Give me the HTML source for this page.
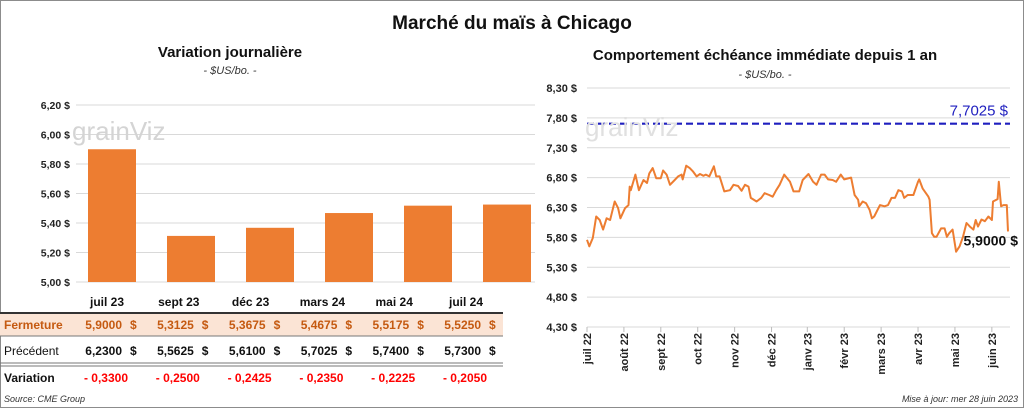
<!DOCTYPE html>
<html><head><meta charset="utf-8"><style>
body{margin:0;width:1024px;height:408px;background:#fff;font-family:"Liberation Sans",Calibri,sans-serif;overflow:hidden}
#wrap{position:relative;width:1022px;height:406px;border:1px solid #8c8c8c}
</style></head><body>
<div id="wrap">
<svg id="svg" width="1024" height="408" style="position:absolute;left:-1px;top:-1px" font-family="Liberation Sans, sans-serif">
<text x="512" y="29" text-anchor="middle" font-size="19" font-weight="bold" fill="#111">Marché du maïs à Chicago</text>
<text x="230" y="57" text-anchor="middle" font-size="15" font-weight="bold" fill="#111">Variation journalière</text>
<text x="230" y="74" text-anchor="middle" font-size="11" font-style="italic" fill="#333">- $US/bo. -</text>
<text x="765" y="60" text-anchor="middle" font-size="15" font-weight="bold" fill="#111">Comportement échéance immédiate depuis 1 an</text>
<text x="765" y="78" text-anchor="middle" font-size="11" font-style="italic" fill="#333">- $US/bo. -</text>
<g id="left"></g><g id="right"></g>
<text x="72" y="140" font-size="26" fill="#d4d4d4">grainViz</text>
<text x="585" y="136" font-size="26" fill="#e0e0e0">grainViz</text>
<g id="table"></g>
<text x="4" y="402" font-size="9" font-style="italic" fill="#333">Source: CME Group</text>
<text x="1018" y="402" text-anchor="end" font-size="9" font-style="italic" fill="#333">Mise à jour: mer 28 juin 2023</text>
</svg></div>
<script>
const barCats=["juil 23","sept 23","déc 23","mars 24","mai 24","juil 24"];
const closeVals=[5.9,5.3125,5.3675,5.4675,5.5175,5.525];
const prevVals=[6.23,5.5625,5.61,5.7025,5.74,5.73];
const leftTicks=[5.0,5.2,5.4,5.6,5.8,6.0,6.2];
const rightTicks=[4.3,4.8,5.3,5.8,6.3,6.8,7.3,7.8,8.3];
const monthLabels=["juil 22","août 22","sept 22","oct 22","nov 22","déc 22","janv 23","févr 23","mars 23","avr 23","mai 23","juin 23"];
const monthDays=[0,32,64,96,128,160,191,223,255,287,319,351];
const lineDays=[0,2,5,8,11,14,17,20,24,27,29,33,36,37,38,42,45,49,52,54,57,60,64,66,69,72,76,79,82,83,86,89,92,95,98,101,103,106,110,112,115,119,124,127,131,134,137,140,142,147,151,154,158,161,164,167,171,176,179,184,187,192,196,199,203,206,209,213,216,220,223,229,232,235,236,239,242,245,247,249,254,258,261,264,267,270,273,275,278,283,287,288,291,296,297,299,301,303,307,310,312,314,317,320,323,326,329,332,335,337,339,342,345,348,351,352,356,357,359,361,364,365];
const linePrices=[5.76,5.65,5.79,6.15,6.09,5.93,6.12,6.09,6.40,6.29,6.12,6.29,6.34,6.65,6.59,6.85,6.59,6.76,6.71,6.87,6.96,6.79,6.79,6.92,6.85,6.68,6.76,6.82,6.85,6.77,7.00,6.96,6.90,6.82,6.86,6.83,6.85,6.82,6.99,6.82,6.82,6.57,6.59,6.68,6.66,6.58,6.68,6.65,6.46,6.40,6.46,6.54,6.51,6.48,6.59,6.68,6.85,6.73,6.57,6.57,6.76,6.86,6.73,6.68,6.85,6.85,6.77,6.76,6.73,6.85,6.77,6.80,6.51,6.43,6.32,6.40,6.37,6.26,6.12,6.15,6.34,6.32,6.34,6.46,6.46,6.59,6.57,6.46,6.51,6.51,6.73,6.77,6.62,6.48,6.43,5.87,5.81,5.81,5.95,5.95,5.81,5.87,5.93,5.56,5.65,5.81,6.04,5.98,5.93,6.09,5.98,6.10,6.07,6.15,6.09,6.40,6.44,6.73,6.32,6.34,6.34,5.90];
const refLevel=7.7025;
const NS="http://www.w3.org/2000/svg";
function mk(p,t,a){const e=document.createElementNS(NS,t);for(const k in a)e.setAttribute(k,a[k]);p.appendChild(e);return e;}
const fmt2=v=>v.toFixed(2).replace('.',',')+' $';
const fmt4=v=>v.toFixed(4).replace('.',',');
// left chart
const L=document.getElementById('left');
const ly=v=>282-(v-5.0)/1.2*177;
const lx=i=>112+i*79;
const tc=i=>107+i*71.8;
leftTicks.forEach(t=>{
 const g=mk(L,'line',{x1:76,x2:535,y1:ly(t),y2:ly(t),stroke:'#d9d9d9','stroke-width':1});
 
 const tx=mk(L,'text',{x:70,y:ly(t)+4,'text-anchor':'end','font-size':10.5,'font-weight':'bold',fill:'#222'});
 tx.textContent=fmt2(t);
 
});
closeVals.forEach((v,i)=>{
 const r=mk(L,'rect',{x:lx(i)-24,y:ly(v),width:48,height:ly(5.0)-ly(v),fill:'#ed7d31'});
 
});
// table
const T=document.getElementById('table');
let bg=mk(T,'rect',{x:0,y:314,width:503,height:22,fill:'#fbe4d5'});

[[313,2,'#333'],[336,1,'#777'],[363,1,'#777'],[366,1,'#777']].forEach(l=>{
 const e=mk(T,'line',{x1:0,x2:503,y1:l[0],y2:l[0],stroke:l[2],'stroke-width':l[1]});
 
});
const rowLab=[["Fermeture",329,'#c55a11',true],["Précédent",355,'#111',false],["Variation",382,'#111',true]];
rowLab.forEach(r=>{const t=mk(T,'text',{x:4,y:r[1],'font-size':12,fill:r[2],'font-weight':r[3]?'bold':'normal'});t.textContent=r[0];
 });
barCats.forEach((c,i)=>{
 const h=mk(T,'text',{x:tc(i),y:306,'text-anchor':'middle','font-size':12,'font-weight':'bold',fill:'#111'});h.textContent=c;
 
 [[closeVals[i],329,'#c55a11','close-value'],[prevVals[i],355,'#111','previous-value']].forEach(q=>{
  const a=mk(T,'text',{x:tc(i)+15,y:q[1],'text-anchor':'end','font-size':12,'font-weight':'bold',fill:q[2]});a.textContent=fmt4(q[0]);
  
  const s=mk(T,'text',{x:tc(i)+23,y:q[1],'font-size':12,'font-weight':'bold',fill:q[2]});s.textContent='$';
  
 });
 const d=mk(T,'text',{x:tc(i)-1,y:382,'text-anchor':'middle','font-size':12,'font-weight':'bold',fill:'#f00'});d.textContent='- '+fmt4(Math.abs(closeVals[i]-prevVals[i]));
 
});
// right chart
const R=document.getElementById('right');
const ry=v=>327-(v-4.3)/4.0*239;
const rx=d=>587+d/365*421;
rightTicks.forEach(t=>{
 const g=mk(R,'line',{x1:587,x2:1010,y1:ry(t),y2:ry(t),stroke:'#d9d9d9','stroke-width':1});
 
 const tx=mk(R,'text',{x:577,y:ry(t)+4,'text-anchor':'end','font-size':11,'font-weight':'bold',fill:'#222'});
 tx.textContent=fmt2(t);
 
});
monthLabels.forEach((m,i)=>{
 const x=rx(monthDays[i]);
 const tk=mk(R,'line',{x1:x,x2:x,y1:327,y2:332,stroke:'#bbb'});
 
 const t=mk(R,'text',{x:0,y:0,'text-anchor':'end','font-size':11,'font-weight':'bold',fill:'#222',transform:`translate(${x+4},333) rotate(-90)`});
 t.textContent=m;
});
const dl=mk(R,'line',{x1:587,x2:1010,y1:ry(refLevel),y2:ry(refLevel),stroke:'#1f1fbf','stroke-width':2.2,'stroke-dasharray':'7,4'});

const rl=mk(R,'text',{x:1008,y:ry(refLevel)-8,'text-anchor':'end','font-size':15,fill:'#1f1fbf'});rl.textContent=fmt4(refLevel)+' $';

const pts=lineDays.map((d,i)=>rx(d).toFixed(1)+','+ry(linePrices[i]).toFixed(1)).join(' ');
const pl=mk(R,'polyline',{points:pts,fill:'none',stroke:'#ed7d31','stroke-width':2,'stroke-linejoin':'round'});

const last=linePrices[linePrices.length-1];
const ll=mk(R,'text',{x:1018,y:ry(last)+14,'text-anchor':'end','font-size':14,'font-weight':'bold',fill:'#111'});ll.textContent=fmt4(last)+' $';

</script>
</body></html>
